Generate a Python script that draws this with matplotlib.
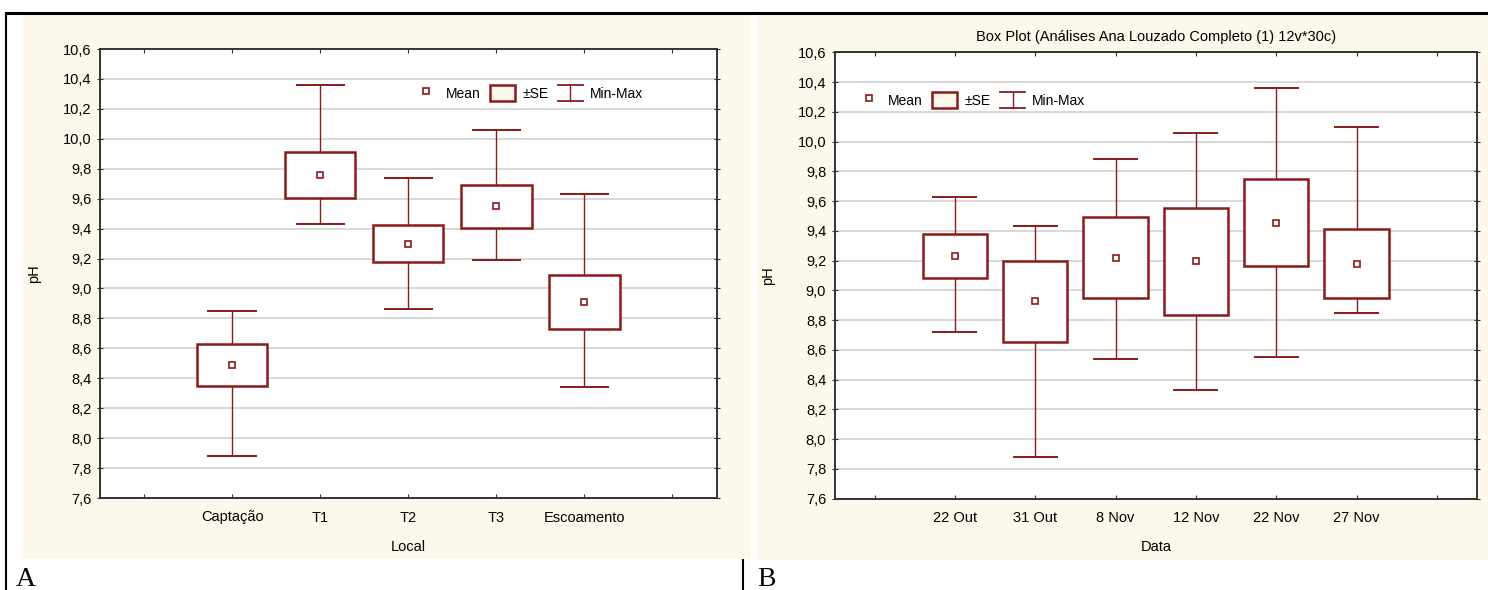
import matplotlib
matplotlib.use("Agg")
import matplotlib.pyplot as plt
from matplotlib.lines import Line2D
from matplotlib.patches import Patch, Rectangle
from matplotlib.legend_handler import HandlerBase

plt.rcParams['font.family'] = ['Liberation Sans', 'DejaVu Sans']

# pH by sampling site
locais = ['Captação', 'T1', 'T2', 'T3', 'Escoamento']
media_local = [8.49, 9.76, 9.30, 9.55, 8.91]
se_low_local = [8.35, 9.605, 9.18, 9.405, 8.73]
se_high_local = [8.63, 9.91, 9.425, 9.69, 9.09]
min_local = [7.88, 9.43, 8.86, 9.19, 8.34]
max_local = [8.85, 10.36, 9.74, 10.06, 9.63]

# pH by sampling date
datas = ['22 Out', '31 Out', '8 Nov', '12 Nov', '22 Nov', '27 Nov']
media_data = [9.23, 8.93, 9.22, 9.195, 9.455, 9.18]
se_low_data = [9.085, 8.655, 8.95, 8.835, 9.165, 8.945]
se_high_data = [9.38, 9.195, 9.495, 9.55, 9.745, 9.415]
min_data = [8.72, 7.88, 8.54, 8.33, 8.55, 8.85]
max_data = [9.63, 9.43, 9.88, 10.06, 10.36, 10.10]

yticks = [7.6, 7.8, 8.0, 8.2, 8.4, 8.6, 8.8, 9.0, 9.2, 9.4, 9.6, 9.8, 10.0, 10.2, 10.4, 10.6]

RED = '#8b1a1a'
CREAM = '#fdf8ec'
W, H = 1488, 590


class MinMaxHandler(HandlerBase):
    # I-shaped legend key for the min-max whiskers
    def create_artists(self, legend, orig_handle, xd, yd, width, height, fontsize, trans):
        x0, y0 = -xd, -yd
        cx = x0 + width / 2
        top = y0 + height
        return [
            Line2D([cx, cx], [y0, top], color=RED, lw=1, transform=trans),
            Line2D([x0, x0 + width], [top, top], color=RED, lw=1.3, transform=trans),
            Line2D([x0, x0 + width], [y0, y0], color=RED, lw=1.3, transform=trans),
        ]


def px_axes(fig, left, right, top, bottom):
    return fig.add_axes([left / W, (H - bottom) / H, (right - left) / W, (bottom - top) / H])


def box_plot(ax, labels, mean, lo, hi, mn, mx, xlabel, legend_xy):
    pos = list(range(1, len(labels) + 1))
    ax.set_facecolor('white')
    ax.vlines(pos, mn, lo, color=RED, lw=1, zorder=2)
    ax.vlines(pos, hi, mx, color=RED, lw=1, zorder=2)
    ax.hlines(mn, [p - 0.28 for p in pos], [p + 0.28 for p in pos], color=RED, lw=1.4, zorder=2)
    ax.hlines(mx, [p - 0.28 for p in pos], [p + 0.28 for p in pos], color=RED, lw=1.4, zorder=2)
    heights = [h - l for h, l in zip(hi, lo)]
    ax.bar(pos, heights, bottom=lo, width=0.8, facecolor='white', edgecolor=RED, lw=1.8, zorder=3)
    ax.plot(pos, mean, ls='none', marker='s', ms=5, mfc='white', mec=RED, mew=1.2, zorder=4)

    ax.set_xlim(-0.5, len(labels) + 1.5)
    ax.set_ylim(7.6, 10.6)
    ax.set_xticks(range(0, len(labels) + 2))
    ax.set_xticklabels([''] + labels + [''])
    ax.set_yticks(yticks)
    ax.set_yticklabels([f'{v:.1f}'.replace('.', ',') for v in yticks])
    ax.tick_params(axis='x', direction='in', length=3, top=True, labelsize=10.5, pad=9, color='#333333')
    ax.tick_params(axis='y', direction='inout', length=4, right=True, labelsize=10.5, pad=4, color='#333333')
    ax.grid(axis='y', color='#d2d2d2', lw=1.2)
    ax.set_axisbelow(True)
    for sp in ax.spines.values():
        sp.set_color('#333333')
        sp.set_linewidth(1.4)
    ax.set_xlabel(xlabel, fontsize=10.5, labelpad=11)
    ax.set_ylabel('pH', fontsize=10.5, labelpad=16)

    handles = [
        Line2D([], [], ls='none', marker='s', ms=5, mfc='white', mec=RED, mew=1.2),
        Patch(facecolor=CREAM, edgecolor=RED, lw=1.8),
        'minmax',
    ]
    leg = ax.legend(handles, ['Mean', '±SE', 'Min-Max'], ncol=3, frameon=False,
                    loc='center', bbox_to_anchor=legend_xy, fontsize=10,
                    handlelength=1.8, handleheight=1.35, handletextpad=0.5,
                    columnspacing=0.7, handler_map={str: MinMaxHandler()})
    return leg


fig = plt.figure(figsize=(W / 100, H / 100), dpi=100)
fig.patch.set_facecolor('white')

# cream panel backgrounds
fig.add_artist(Rectangle((23 / W, (H - 559) / H), (751 - 23) / W, (559 - 14) / H,
                         transform=fig.transFigure, facecolor=CREAM, edgecolor='none', zorder=0))
fig.add_artist(Rectangle((757 / W, (H - 560) / H), (W - 757) / W, (560 - 14) / H,
                         transform=fig.transFigure, facecolor=CREAM, edgecolor='none', zorder=0))

# outer frame lines
fig.add_artist(Line2D([6 / W, 1], [(H - 13) / H] * 2, transform=fig.transFigure, color='black', lw=2.2))
fig.add_artist(Line2D([6.5 / W] * 2, [0, (H - 13) / H], transform=fig.transFigure, color='black', lw=1.5))
fig.add_artist(Line2D([743 / W] * 2, [0, (H - 560) / H], transform=fig.transFigure, color='black', lw=1.5))

ax1 = px_axes(fig, 100, 716.5, 49, 498)
box_plot(ax1, locais, media_local, se_low_local, se_high_local, min_local, max_local,
         'Local', (0.695, 0.902))

ax2 = px_axes(fig, 834.5, 1477, 52.3, 498.5)
box_plot(ax2, datas, media_data, se_low_data, se_high_data, min_data, max_data,
         'Data', (0.212, 0.893))
ax2.set_title('Box Plot (Análises Ana Louzado Completo (1) 12v*30c)', fontsize=10.5, pad=8)

fig.text(16 / W, 4 / H, 'A', family='Liberation Serif', fontsize=20, va='baseline')
fig.text(757 / W, 4 / H, 'B', family='Liberation Serif', fontsize=20, va='baseline')

fig.savefig('out.png', dpi=100)
